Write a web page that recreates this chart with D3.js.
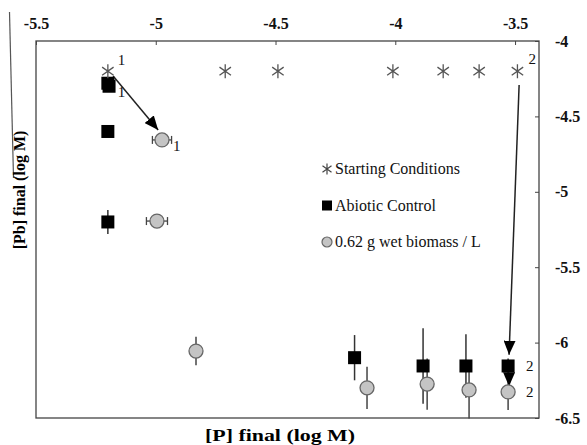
<!DOCTYPE html>
<html>
<head>
<meta charset="utf-8">
<script src="https://cdn.jsdelivr.net/npm/d3@7"></script>
<style>
  body { margin: 0; background: #fff; }
  text { font-family: "Liberation Serif", "Times New Roman", serif; }
</style>
</head>
<body>
<div id="chart"></div>
<script>
// ---- data ----
var startX = [-5.2, -4.71, -4.49, -4.01, -3.8, -3.65, -3.49];
var startY = [-4.2, -4.2, -4.2, -4.2, -4.2, -4.2, -4.2];

var abioticX = [-5.2, -5.195, -5.2, -5.2, -4.17, -3.884, -3.705, -3.529];
var abioticY = [-4.28, -4.3, -4.6, -5.2, -6.1, -6.155, -6.155, -6.155];
var abioticErr = [0, 0, 0, 0.08, 0.15, 0.25, 0.21, 0.05];

var bioX = [-4.974, -4.995, -4.832, -4.118, -3.867, -3.692, -3.529];
var bioY = [-4.656, -5.194, -6.056, -6.3, -6.275, -6.314, -6.327];
var bioErrY = [0.02, 0, 0.095, 0.14, 0.17, 0.19, 0.12];
var bioErrX = [0.04, 0.044, 0, 0, 0, 0, 0];

var xTicks = [-5.5, -5, -4.5, -4, -3.5];
var yTicks = [-4, -4.5, -5, -5.5, -6, -6.5];

// point labels: [x, y, text, dx, dy]
var pointLabels = [
  [-5.2, -4.2, "1", 10, -6],
  [-5.2, -4.28, "1", 10, 14],
  [-4.974, -4.656, "1", 11, 11],
  [-3.49, -4.2, "2", 11, -7],
  [-3.529, -6.155, "2", 18, 5],
  [-3.529, -6.327, "2", 18, 5]
];

// arrows: [x1, y1, x2, y2]
var arrows = [
  [-5.178, -4.232, -4.99, -4.59],
  [-3.483, -4.292, -3.525, -6.08],
  [-3.525, -6.2, -3.525, -6.29]
];

var width = 587, height = 445;
var margin = {left: 36, right: 48, top: 41, bottom: 27};

var x = d3.scaleLinear().domain([-5.5, -3.4]).range([margin.left, width - margin.right]);
var y = d3.scaleLinear().domain([-6.5, -4]).range([height - margin.bottom, margin.top]);

var svg = d3.select("#chart").append("svg")
  .attr("width", width)
  .attr("height", height);

// stray crop line at the far left
svg.append("line")
  .attr("x1", 9.5).attr("y1", 12).attr("x2", 13.5).attr("y2", 178)
  .attr("stroke", "#555").attr("stroke-width", 1.2);

// frame
svg.append("rect")
  .attr("x", x(-5.5)).attr("y", y(-4))
  .attr("width", x(-3.4) - x(-5.5)).attr("height", y(-6.5) - y(-4))
  .attr("fill", "none").attr("stroke", "#444").attr("stroke-width", 1.3);

function fmt(d) { return String(d); }

// top axis
var topAxis = svg.append("g")
  .attr("transform", "translate(0," + y(-4) + ")")
  .call(d3.axisTop(x).tickValues(xTicks).tickSizeInner(-4).tickSizeOuter(0).tickPadding(12).tickFormat(fmt));
topAxis.attr("font-family", null).attr("font-size", null);
topAxis.select(".domain").remove();
topAxis.selectAll("line").attr("stroke", "#444");
topAxis.selectAll("text")
  .style("font-size", "16px").style("font-weight", "bold").attr("fill", "#111");

// right axis
var rightAxis = svg.append("g")
  .attr("transform", "translate(" + x(-3.4) + ",0)")
  .call(d3.axisRight(y).tickValues(yTicks).tickSizeInner(-4).tickSizeOuter(0).tickPadding(16).tickFormat(fmt));
rightAxis.attr("font-family", null).attr("font-size", null);
rightAxis.select(".domain").remove();
rightAxis.selectAll("line").attr("stroke", "#444");
rightAxis.selectAll("text")
  .style("font-size", "16px").style("font-weight", "bold").attr("fill", "#111");

// axis titles
svg.append("text")
  .attr("x", 205).attr("y", 441)
  .attr("textLength", 150).attr("lengthAdjust", "spacingAndGlyphs")
  .style("font-size", "16px").style("font-weight", "bold")
  .text("[P] final (log M)");

svg.append("text")
  .attr("transform", "translate(25,190)rotate(-90)")
  .attr("text-anchor", "middle")
  .style("font-size", "16px").style("font-weight", "bold")
  .text("[Pb] final (log M)");

// arrowhead
svg.append("defs").append("marker")
  .attr("id", "head")
  .attr("viewBox", "0 0 14 12")
  .attr("refX", 14).attr("refY", 6)
  .attr("markerWidth", 14).attr("markerHeight", 12)
  .attr("markerUnits", "userSpaceOnUse")
  .attr("orient", "auto")
  .append("path").attr("d", "M0,0L14,6L0,12Z").attr("fill", "#000");

// error bars
var abData = abioticX.map(function(v, i) { return [v, abioticY[i], abioticErr[i]]; });
var bioData = bioX.map(function(v, i) { return [v, bioY[i], bioErrY[i], bioErrX[i]]; });

svg.selectAll(".eb-ab").data(abData.filter(function(d) { return d[2] > 0; }))
  .enter().append("line")
  .attr("x1", function(d) { return x(d[0]); }).attr("x2", function(d) { return x(d[0]); })
  .attr("y1", function(d) { return y(d[1] + d[2]); }).attr("y2", function(d) { return y(d[1] - d[2]); })
  .attr("stroke", "#333").attr("stroke-width", 1.5);

svg.selectAll(".eb-bio").data(bioData.filter(function(d) { return d[2] > 0; }))
  .enter().append("line")
  .attr("x1", function(d) { return x(d[0]); }).attr("x2", function(d) { return x(d[0]); })
  .attr("y1", function(d) { return y(d[1] + d[2]); }).attr("y2", function(d) { return y(d[1] - d[2]); })
  .attr("stroke", "#444").attr("stroke-width", 1.5);

var hx = svg.selectAll(".ebx").data(bioData.filter(function(d) { return d[3] > 0; })).enter().append("g");
hx.append("line")
  .attr("x1", function(d) { return x(d[0] - d[3]); }).attr("x2", function(d) { return x(d[0] + d[3]); })
  .attr("y1", function(d) { return y(d[1]); }).attr("y2", function(d) { return y(d[1]); })
  .attr("stroke", "#444").attr("stroke-width", 1.3);
[-1, 1].forEach(function(s) {
  hx.append("line")
    .attr("x1", function(d) { return x(d[0] + s * d[3]); }).attr("x2", function(d) { return x(d[0] + s * d[3]); })
    .attr("y1", function(d) { return y(d[1]) - 4; }).attr("y2", function(d) { return y(d[1]) + 4; })
    .attr("stroke", "#444").attr("stroke-width", 1.3);
});

// arrows
svg.selectAll(".arrow").data(arrows).enter().append("line")
  .attr("x1", function(d) { return x(d[0]); }).attr("y1", function(d) { return y(d[1]); })
  .attr("x2", function(d) { return x(d[2]); }).attr("y2", function(d) { return y(d[3]); })
  .attr("stroke", "#222").attr("stroke-width", 1.5)
  .attr("marker-end", "url(#head)");

// markers
function asterisk(r) {
  var a = 55 * Math.PI / 180;
  var dx = r * Math.sin(a), dy = r * Math.cos(a);
  return "M0," + (-r) + "L0," + r +
    "M" + (-dx) + "," + (-dy) + "L" + dx + "," + dy +
    "M" + dx + "," + (-dy) + "L" + (-dx) + "," + dy;
}

svg.selectAll(".bio").data(bioData).enter().append("circle")
  .attr("cx", function(d) { return x(d[0]); })
  .attr("cy", function(d) { return y(d[1]); })
  .attr("r", 7)
  .attr("fill", "#c4c4c4").attr("stroke", "#666").attr("stroke-width", 1.3);

svg.selectAll(".ab").data(abData).enter().append("rect")
  .attr("x", function(d) { return x(d[0]) - 6.5; })
  .attr("y", function(d) { return y(d[1]) - 6.5; })
  .attr("width", 13).attr("height", 13)
  .attr("fill", "#000");

svg.selectAll(".start").data(startX).enter().append("path")
  .attr("transform", function(d, i) { return "translate(" + x(d) + "," + y(startY[i]) + ")"; })
  .attr("d", asterisk(7))
  .attr("fill", "none").attr("stroke", "#555").attr("stroke-width", 1.3);

// point labels
svg.selectAll(".plabel").data(pointLabels).enter().append("text")
  .attr("x", function(d) { return x(d[0]) + d[3]; })
  .attr("y", function(d) { return y(d[1]) + d[4]; })
  .style("font-size", "15px").attr("fill", "#111")
  .text(function(d) { return d[2]; });

// legend
var legend = svg.append("g").attr("transform", "translate(327,169)");
var legendItems = ["Starting Conditions", "Abiotic Control", "0.62 g wet biomass / L"];
legendItems.forEach(function(name, i) {
  var g = legend.append("g").attr("transform", "translate(0," + (i * 36.5) + ")");
  if (i === 0) {
    g.append("path").attr("d", asterisk(5.5)).attr("fill", "none").attr("stroke", "#444").attr("stroke-width", 1.2);
  } else if (i === 1) {
    g.append("rect").attr("x", -5).attr("y", -5).attr("width", 10).attr("height", 10).attr("fill", "#000");
  } else {
    g.append("circle").attr("r", 5).attr("fill", "#c4c4c4").attr("stroke", "#666").attr("stroke-width", 1.2);
  }
  g.append("text").attr("x", 8).attr("y", 5)
    .style("font-size", "16px").attr("fill", "#111")
    .text(name);
});
</script>
</body>
</html>
